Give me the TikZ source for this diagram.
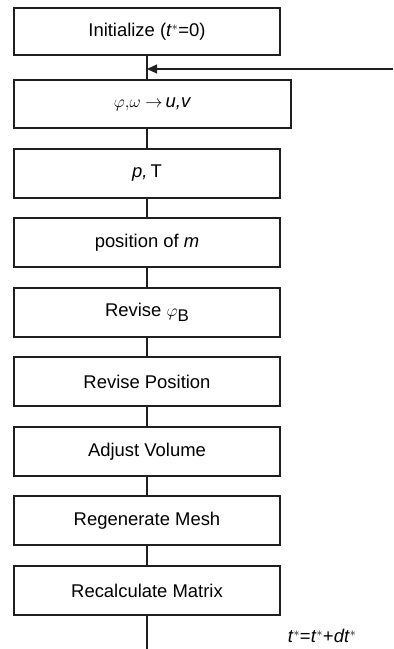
\documentclass[tikz,border=0pt]{standalone}
\usepackage{fontspec}
\setmainfont{Liberation Sans}
\usetikzlibrary{arrows.meta}
\begin{document}
\begin{tikzpicture}[x=1bp,y=-1bp,
  stepbox/.style={draw=black!88, line width=1.1bp, rectangle, inner sep=0pt,
    minimum width=266bp, minimum height=48bp, font=\fontsize{18.5}{22}\selectfont},
  link/.style={draw=black!88, line width=1.1bp},
  lbl/.style={font=\fontsize{18.5}{22}\selectfont, inner sep=0pt}]
\useasboundingbox (0,0) rectangle (393,649);
% flow chart boxes, top to bottom
\node[stepbox, minimum height=47bp] (b1) at (147,31.5) {Initialize (\textit{t}$^{*}$=0)};
\node[stepbox, minimum width=277bp] (b2) at (152.5,104) {$\varphi{,}\omega\rightarrow$\,\textit{u,v}};
\node[stepbox, minimum height=49bp] (b3) at (147,173.5) {\textit{p,}\,T};
\node[stepbox, minimum height=49bp] (b4) at (147,242.5) {position of \textit{m}};
\node[stepbox, minimum height=49bp] (b5) at (147,312.5) {Revise $\varphi$\raisebox{-5bp}{\fontsize{17}{20}\selectfont B}};
\node[stepbox, minimum height=49bp] (b6) at (147,381.5) {Revise Position};
\node[stepbox, minimum height=49bp] (b7) at (147,451.5) {Adjust Volume};
\node[stepbox, minimum height=49bp] (b8) at (147,520.5) {Regenerate Mesh};
\node[stepbox, minimum height=49bp] (b9) at (147,590.5) {Recalculate Matrix};
% connectors between consecutive boxes
\foreach \a/\b in {b1/b2,b2/b3,b3/b4,b4/b5,b5/b6,b6/b7,b7/b8,b8/b9}
  \draw[link] (\a.south -| b1.south) -- (\b.north -| b1.south);
% loop back from the time step
\coordinate (fb) at (393,69);
\coordinate (tail) at (147,649);
\draw[link] (b9.south) -- (tail);
\draw[link, -{Triangle[length=10bp, width=9bp]}] (fb) -- (fb -| b1.south);
\node[lbl] (ts) at (322,636) {\textit{t}$^{*}$=\textit{t}$^{*}$+\textit{dt}$^{*}$};
\end{tikzpicture}
\end{document}
